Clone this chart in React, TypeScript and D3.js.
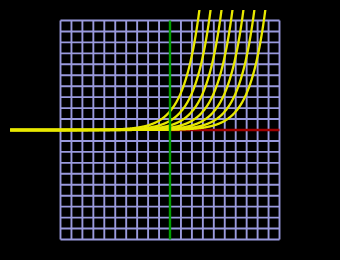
import React from "react";
import * as d3 from "d3";

// grid ticks (units)
const gridTicks: number[] = d3.range(-10, 11, 1);
// horizontal shifts of the exponential curves y = 2^(x - shift)
const curveShifts: number[] = [-0.77, 0.25, 1.25, 2.25, 3.25, 4.25, 5.25];
const curveXStart = -14.6;
const curveXEnd = 10;

const W = 340;
const H = 260;

export default function App() {
  const x = d3.scaleLinear().domain([-10, 10]).range([60.5, 279.5]);
  const y = d3.scaleLinear().domain([-10, 10]).range([239.5, 20.5]);
  const xs = d3.range(curveXStart, curveXEnd + 0.001, 0.02);
  const line = d3
    .line<[number, number]>()
    .x((d) => x(d[0]))
    .y((d) => y(d[1]));
  const yMax = y.invert(8);

  return (
    <svg
      width={W}
      height={H}
      style={{ position: "fixed", left: 0, top: 0, background: "#000" }}
    >
      <rect x={0} y={0} width={W} height={H} fill="#000" />
      <defs>
        <clipPath id="clipTop">
          <rect x={0} y={10} width={W} height={H - 10} />
        </clipPath>
      </defs>
      <g stroke="#9a9ade" strokeWidth={1.9}>
        {gridTicks.map((t) => (
          <line key={"v" + t} x1={x(t)} x2={x(t)} y1={y(-10)} y2={y(10)} />
        ))}
        {gridTicks.map((t) => (
          <line key={"h" + t} x1={x(-10)} x2={x(10)} y1={y(t)} y2={y(t)} />
        ))}
      </g>
      <line x1={x(0)} x2={x(10)} y1={y(0)} y2={y(0)} stroke="#a00000" strokeWidth={2.4} />
      <g clipPath="url(#clipTop)" fill="none" stroke="#e8e800" strokeWidth={2.3}>
        {curveShifts.map((s, i) => {
          const pts: [number, number][] = [];
          for (const v of xs) {
            const val = Math.pow(2, v - s);
            pts.push([v, val]);
            if (val > yMax) break;
          }
          return <path key={i} d={line(pts) || ""} />;
        })}
      </g>
      <line x1={x(0)} x2={x(0)} y1={y(-10)} y2={y(10)} stroke="#00a000" strokeWidth={2.4} />
    </svg>
  );
}
